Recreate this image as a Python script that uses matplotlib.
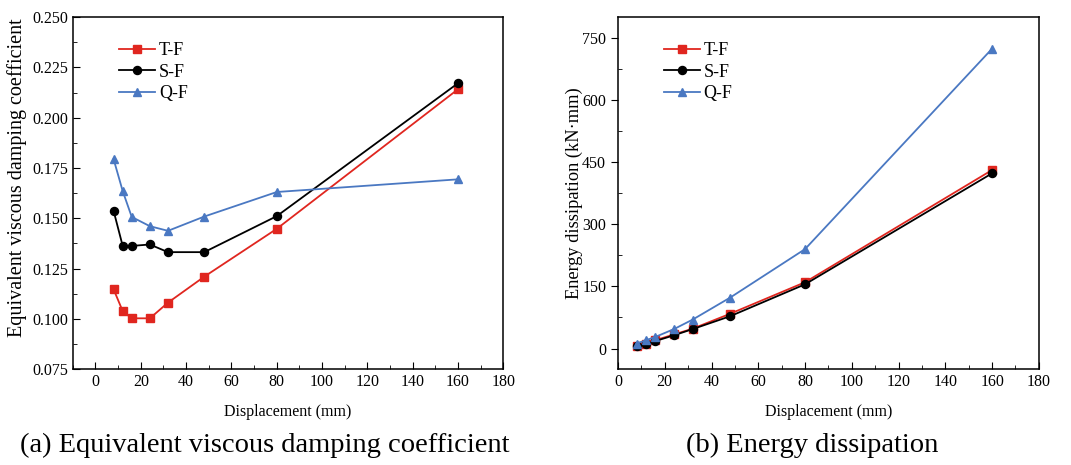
import matplotlib.pyplot as plt
from matplotlib.ticker import MultipleLocator, FormatStrFormatter

plt.rcParams['font.family'] = ['Liberation Serif', 'DejaVu Serif']

# 位移 (mm)
disp = [8, 12, 16, 24, 32, 48, 80, 160]

# (a) 等效粘滞阻尼系数
damp_tf = [0.1147, 0.1039, 0.1003, 0.1003, 0.1081, 0.1210, 0.1448, 0.2142]
damp_sf = [0.1537, 0.1363, 0.1363, 0.1370, 0.1332, 0.1332, 0.1511, 0.2172]
damp_qf = [0.1794, 0.1636, 0.1507, 0.1461, 0.1438, 0.1509, 0.1631, 0.1694]

# (b) 耗能 (kN·mm)
ener_tf = [7, 12, 20, 34, 48, 84, 160, 431]
ener_sf = [5, 10, 18, 32, 47, 78, 155, 423]
ener_qf = [12, 20, 28, 47, 70, 123, 240, 724]

labels = ['T-F', 'S-F', 'Q-F']
colors = ['#e0261f', 'black', '#4a78c2']
markers = ['s', 'o', '^']

fig = plt.figure(figsize=(10.71, 4.65), dpi=100)
ax1 = fig.add_axes([0.068, 0.206, 0.402, 0.757])
ax2 = fig.add_axes([0.577, 0.206, 0.393, 0.757])

for ax, series in [(ax1, [damp_tf, damp_sf, damp_qf]), (ax2, [ener_tf, ener_sf, ener_qf])]:
    for y, lab, c, m in zip(series, labels, colors, markers):
        ax.plot(disp, y, color=c, marker=m, markersize=5.8, linewidth=1.3, label=lab)
    ax.legend(loc='upper left', bbox_to_anchor=(0.07, 0.975), frameon=False,
              fontsize=13, handlelength=2.0, labelspacing=0.25, handletextpad=0.2)
    ax.set_xlabel('Displacement (mm)', fontsize=11.5, labelpad=10)
    ax.xaxis.set_major_locator(MultipleLocator(20))
    ax.xaxis.set_minor_locator(MultipleLocator(10))
    ax.tick_params(which='both', direction='in', top=False, right=False, labelsize=11.5)
    ax.tick_params(which='major', length=5)
    ax.tick_params(which='minor', length=3)
    for s in ax.spines.values():
        s.set_linewidth(1.1)

ax1.set_xlim(-10, 180)
ax1.set_ylim(0.075, 0.250)
ax1.yaxis.set_major_locator(MultipleLocator(0.025))
ax1.yaxis.set_minor_locator(MultipleLocator(0.0125))
ax1.yaxis.set_major_formatter(FormatStrFormatter('%.3f'))
ax1.set_ylabel('Equivalent viscous damping coefficient', fontsize=14.5)
ax1.yaxis.set_label_coords(-0.107, 0.545)

ax2.set_xlim(0, 180)
ax2.set_ylim(-50, 800)
ax2.yaxis.set_major_locator(MultipleLocator(150))
ax2.yaxis.set_minor_locator(MultipleLocator(75))
ax2.tick_params(axis='y', which='major', direction='out')
ax2.set_ylabel('Energy dissipation (kN·mm)', fontsize=13.2)
ax2.yaxis.set_label_coords(-0.083, 0.5)

fig.text(0.247, 0.028, '(a) Equivalent viscous damping coefficient', ha='center', fontsize=20.5)
fig.text(0.758, 0.028, '(b) Energy dissipation', ha='center', fontsize=20.5)

fig.savefig('out.png', dpi=100)
